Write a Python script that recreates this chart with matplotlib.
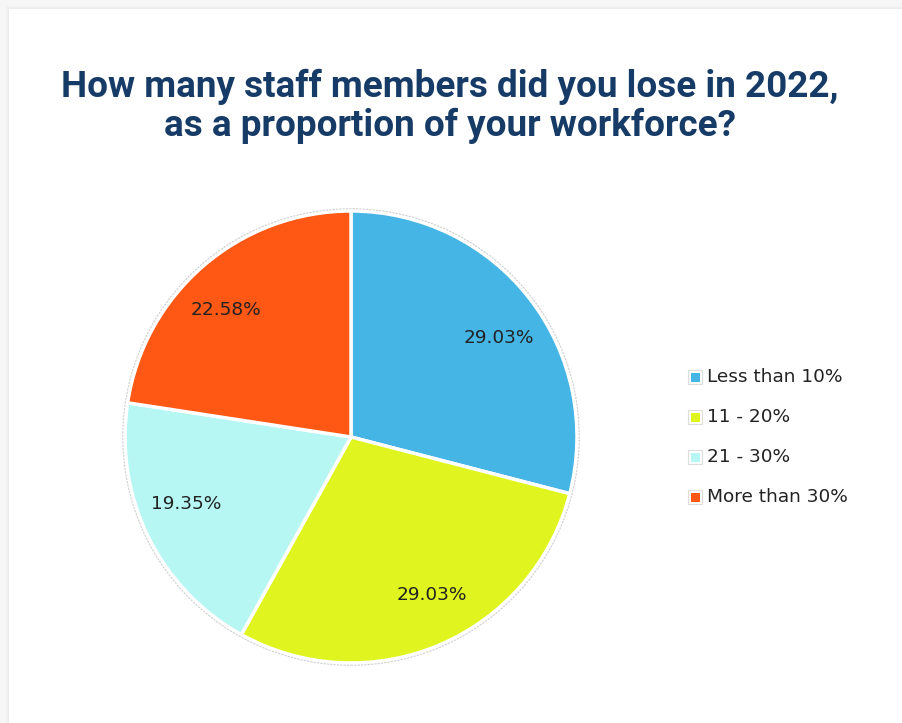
import matplotlib
matplotlib.use("Agg")
import numpy as np
import matplotlib.pyplot as plt
from matplotlib.patches import Rectangle, Circle

# Survey results
categories = ["Less than 10%", "11 - 20%", "21 - 30%", "More than 30%"]
shares = [29.03, 29.03, 19.35, 22.58]
colors = ["#45B5E6", "#E0F51F", "#B6F7F4", "#FF5714"]
title = "How many staff members did you lose in 2022,\nas a proportion of your workforce?"

W, H = 902, 723
fig = plt.figure(figsize=(W / 100, H / 100), dpi=100, facecolor="#F6F6F6")

# Background card in pixel coordinates
bg = fig.add_axes([0, 0, 1, 1], zorder=0)
bg.set_xlim(0, W)
bg.set_ylim(H, 0)
bg.axis("off")
for i, c in enumerate(["#F2F2F2", "#EFEFEF", "#ECECEC"]):
    bg.add_patch(Rectangle((9 - 3 + i, 9 - 3 + i), W, H, facecolor=c, edgecolor="none"))
bg.add_patch(Rectangle((9, 9), W, H, facecolor="white", edgecolor="none"))

# Title
bg.text(450, 106, title, ha="center", va="center", color="#173B67",
        fontsize=26.6, fontweight="bold", linespacing=1.1,
        family=["Liberation Sans Narrow", "Roboto", "DejaVu Sans"])

# Pie
cx, cy, r = 351, 437, 226
ax = fig.add_axes([(cx - r) / W, (H - cy - r) / H, 2 * r / W, 2 * r / H], zorder=1)
wedges, texts, autotexts = ax.pie(
    shares, colors=colors, startangle=90, counterclock=False,
    autopct="%.2f%%", pctdistance=0.787, radius=1.0,
    wedgeprops=dict(edgecolor="white", linewidth=2.5),
    textprops=dict(fontsize=13.3, color="#222222", family="DejaVu Sans"))

# Ease the percentage labels slightly toward the horizontal axis
for w, t in zip(wedges, autotexts):
    mid = np.deg2rad((w.theta1 + w.theta2) / 2)
    ang = mid - np.deg2rad(4) * np.sign(np.sin(2 * mid))
    t.set_position((0.787 * np.cos(ang), 0.787 * np.sin(ang)))

ax.add_patch(Circle((0, 0), 1.01, facecolor="none", edgecolor="#D0D0D0",
                    linewidth=0.8, linestyle=(0, (2, 1)), clip_on=False))
ax.set_xlim(-1.0, 1.0)
ax.set_ylim(-1.0, 1.0)
ax.set_aspect("equal")
ax.axis("off")

# Legend
for i, (lab, col) in enumerate(zip(categories, colors)):
    y = 377 + 40 * i
    bg.add_patch(Rectangle((688, y - 7), 14, 14, facecolor="white",
                           edgecolor="#DDDDDD", linewidth=0.8))
    bg.add_patch(Rectangle((690.5, y - 4.5), 9, 9, facecolor=col, edgecolor="none"))
    bg.text(707, y, lab, ha="left", va="center", fontsize=13.3, color="#222222",
            family="DejaVu Sans")

fig.savefig("out.png", dpi=100, facecolor=fig.get_facecolor())
